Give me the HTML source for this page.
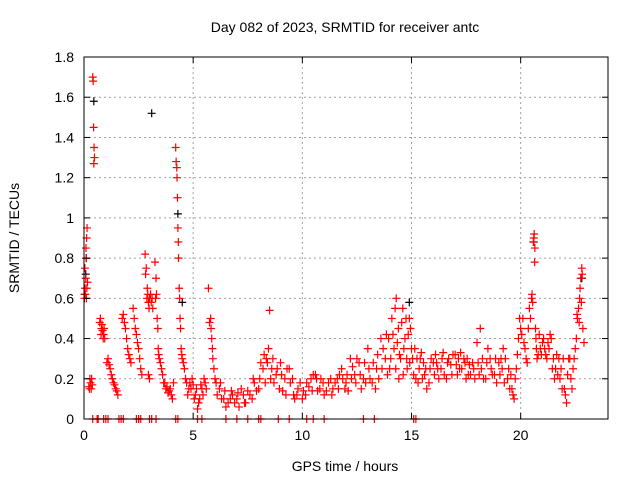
<!DOCTYPE html>
<html><head><meta charset="utf-8"><style>
body{margin:0;background:#fff;}
svg text{font-family:"Liberation Sans",sans-serif;font-size:14px;fill:#000;}
</style></head><body>
<svg id="chart" width="640" height="480" xmlns="http://www.w3.org/2000/svg">
<rect width="640" height="480" fill="#fff"/>
<text x="345" y="32" text-anchor="middle">Day 082 of 2023, SRMTID for receiver antc</text>
<text transform="translate(19,238) rotate(-90)" text-anchor="middle">SRMTID / TECUs</text>
<text x="345" y="471" text-anchor="middle">GPS time / hours</text>
<g id="grid"></g>
<g id="marks"></g>
<g id="axes"></g>
</svg>
<script>
const xTicks=[0,5,10,15,20];
const yTicks=[0,0.2,0.4,0.6,0.8,1,1.2,1.4,1.6,1.8];
const yTickLabels=["0","0.2","0.4","0.6","0.8","1","1.2","1.4","1.6","1.8"];
const redT=[0.02,0.05,0.08,0.10,0.12,0.14,0.06,0.16,0.25,0.30,0.35,0.38,0.40,0.42,0.44,0.46,0.48,0.45,0.75,0.80,0.85,0.90,0.95,1.10,1.20,1.30,1.40,1.50,1.80,1.90,2.00,2.10,2.25,2.35,2.45,2.55,2.60,2.80,2.85,2.90,2.95,3.00,3.05,3.00,3.15,3.25,3.30,3.35,3.40,3.45,3.55,3.65,3.75,3.90,4.00,4.10,4.20,4.25,4.28,4.30,4.33,4.36,4.40,4.45,4.55,4.65,4.80,4.95,5.10,5.25,5.40,5.55,5.80,5.85,5.90,6.00,5.70,6.20,6.40,6.60,6.80,7.00,7.20,7.40,7.60,7.80,8.00,8.20,8.35,8.45,8.50,8.60,8.80,9.00,9.20,9.40,9.60,9.80,10.00,10.20,10.40,10.60,10.80,11.00,11.20,11.40,11.60,11.80,12.00,12.20,12.40,12.60,12.80,13.00,13.20,13.40,13.60,13.80,14.00,14.10,14.20,14.30,14.40,14.50,14.60,14.70,14.80,14.90,15.00,15.20,15.40,15.60,15.80,16.00,16.20,16.40,16.60,16.80,17.00,17.20,17.40,17.60,17.80,18.00,18.20,18.40,18.60,18.80,19.00,19.20,19.40,19.60,19.80,19.90,20.00,20.10,20.20,20.40,20.50,20.60,20.65,20.70,20.80,20.90,21.00,21.20,21.40,21.60,21.80,22.00,22.10,22.20,22.30,22.40,22.50,22.60,22.70,22.75,22.80,22.85,
0.4,0.6,1.0,1.6,2.5,2.6,3.1,3.3,4.3,5.2,6.5,7.0,7.5,8.1,8.9,9.4,10.2,11.0,13.3,15.1];
const redV=[0.60,0.65,0.70,0.80,0.90,0.95,0.62,0.68,0.15,0.18,0.20,0.17,1.70,1.68,1.45,1.35,1.30,1.27,0.50,0.45,0.44,0.42,0.40,0.30,0.25,0.20,0.17,0.14,0.52,0.45,0.35,0.30,0.55,0.45,0.38,0.30,0.25,0.82,0.75,0.65,0.58,0.60,0.62,0.20,0.55,0.78,0.70,0.50,0.35,0.30,0.25,0.18,0.15,0.14,0.12,0.18,1.35,1.25,1.10,0.95,0.80,0.65,0.50,0.35,0.28,0.20,0.15,0.20,0.12,0.08,0.15,0.18,0.50,0.40,0.30,0.20,0.65,0.15,0.10,0.08,0.12,0.10,0.15,0.08,0.12,0.18,0.15,0.25,0.30,0.35,0.54,0.25,0.22,0.28,0.20,0.25,0.12,0.15,0.10,0.18,0.20,0.22,0.15,0.12,0.18,0.15,0.20,0.25,0.18,0.30,0.22,0.28,0.20,0.35,0.18,0.25,0.40,0.30,0.25,0.50,0.35,0.60,0.45,0.30,0.55,0.40,0.25,0.50,0.35,0.20,0.30,0.22,0.18,0.28,0.25,0.30,0.20,0.27,0.32,0.25,0.30,0.22,0.28,0.38,0.25,0.20,0.30,0.22,0.28,0.35,0.20,0.15,0.25,0.40,0.45,0.50,0.35,0.55,0.60,0.90,0.85,0.40,0.32,0.35,0.38,0.30,0.40,0.25,0.20,0.15,0.08,0.30,0.20,0.25,0.35,0.50,0.60,0.70,0.75,0.45,
0,0,0,0,0,0,0,0,0,0,0,0,0,0,0,0,0,0,0,0];
const redT2=[0.04,0.09,0.13,0.11,0.22,0.27,0.33,0.72,0.78,0.82,0.88,0.92,1.05,1.15,1.25,1.35,1.45,1.55,1.75,1.85,1.95,2.05,2.15,2.3,2.4,2.5,2.65,2.82,2.88,2.92,2.98,3.08,3.12,2.95,3.28,3.32,3.38,3.42,3.5,3.6,3.7,3.8,3.85,3.95,4.05,4.22,4.26,4.32,4.38,4.42,4.48,4.5,4.6,4.7,4.75,4.85,4.9,5.0,5.05,5.15,5.2,5.3,5.35,5.45,5.5,5.6,5.75,5.82,5.88,5.95,6.05,6.1,6.25,6.3,6.45,6.5,6.7,6.75,6.9,7.05,7.1,7.3,7.35,7.5,7.7,7.75,7.9,8.05,8.1,8.25,8.3,8.4,8.55,8.65,8.7,8.85,8.95,9.05,9.1,9.25,9.3,9.45,9.55,9.65,9.75,9.9,10.05,10.15,10.3,10.45,10.5,10.65,10.7,10.85,10.95,11.1,11.3,11.35,11.5,11.65,11.7,11.85,11.95,12.05,12.1,12.25,12.3,12.45,12.5,12.65,12.7,12.85,12.9,13.05,13.1,13.25,13.35,13.45,13.5,13.65,13.7,13.85,13.9,13.95,14.05,14.15,14.25,14.28,14.35,14.42,14.45,14.55,14.62,14.65,14.75,14.78,14.85,14.92,14.95,15.05,15.1,15.15,15.25,15.3,15.35,15.45,15.5,15.55,15.65,15.7,15.85,15.9,16.05,16.1,16.15,16.25,16.35,16.45,16.5,16.65,16.7,16.85,16.9,17.05,17.1,17.15,17.25,17.3,17.45,17.5,17.55,17.65,17.7,17.85,17.9,18.05,18.1,18.15,18.25,18.3,18.45,18.5,18.65,18.7,18.85,18.9,19.05,19.1,19.15,19.25,19.3,19.45,19.5,19.55,19.65,19.7,19.75,19.85,19.95,20.05,20.15,20.25,20.3,20.35,20.45,20.52,20.55,20.58,20.62,20.64,20.68,20.72,20.75,20.85,20.95,21.05,21.1,21.15,21.25,21.3,21.35,21.45,21.5,21.55,21.65,21.7,21.75,21.85,21.9,21.95,22.05,22.15,22.25,22.35,22.45,22.55,22.58,22.65,22.68,22.72,22.78,22.82,22.9,
0.65,0.9,1.1,1.7,1.8,2.4,2.5,3.0,4.2,5.4,8.0,10.5,12.8,15.2];
const redV2=[0.75,0.85,0.65,0.6,0.16,0.2,0.15,0.48,0.42,0.47,0.4,0.45,0.28,0.27,0.22,0.18,0.15,0.12,0.5,0.48,0.4,0.32,0.28,0.5,0.42,0.35,0.22,0.72,0.6,0.62,0.55,0.58,0.6,0.22,0.6,0.62,0.45,0.32,0.28,0.22,0.18,0.16,0.13,0.15,0.1,1.28,1.2,0.88,0.6,0.45,0.32,0.3,0.25,0.18,0.12,0.18,0.15,0.17,0.1,0.15,0.05,0.1,0.17,0.12,0.2,0.15,0.48,0.45,0.35,0.25,0.18,0.12,0.18,0.1,0.14,0.06,0.1,0.14,0.08,0.13,0.06,0.12,0.08,0.14,0.1,0.2,0.14,0.2,0.28,0.32,0.18,0.28,0.2,0.3,0.18,0.25,0.15,0.22,0.14,0.12,0.25,0.18,0.2,0.1,0.12,0.18,0.14,0.12,0.16,0.14,0.22,0.2,0.14,0.2,0.18,0.14,0.2,0.12,0.18,0.15,0.22,0.2,0.15,0.22,0.14,0.2,0.26,0.18,0.3,0.22,0.15,0.28,0.18,0.25,0.2,0.28,0.15,0.32,0.2,0.25,0.35,0.42,0.22,0.4,0.3,0.42,0.55,0.25,0.38,0.2,0.32,0.48,0.22,0.35,0.5,0.3,0.42,0.28,0.45,0.3,0.22,0.35,0.3,0.18,0.25,0.33,0.2,0.28,0.25,0.15,0.25,0.3,0.22,0.32,0.28,0.2,0.25,0.33,0.22,0.28,0.3,0.22,0.32,0.27,0.22,0.3,0.33,0.25,0.28,0.2,0.3,0.27,0.22,0.25,0.2,0.28,0.22,0.45,0.3,0.2,0.28,0.35,0.25,0.22,0.3,0.18,0.22,0.3,0.25,0.18,0.3,0.25,0.15,0.22,0.12,0.1,0.2,0.32,0.5,0.42,0.38,0.3,0.28,0.45,0.5,0.62,0.58,0.88,0.92,0.78,0.45,0.35,0.3,0.42,0.32,0.4,0.35,0.32,0.38,0.35,0.42,0.25,0.3,0.2,0.32,0.22,0.3,0.25,0.15,0.3,0.12,0.22,0.3,0.15,0.3,0.4,0.52,0.55,0.48,0.65,0.58,0.72,0.38,
0,0,0,0,0,0,0,0,0,0,0,0,0,0];
const blackT=[0.03,0.08,0.45,3.1,4.3,4.5,14.9,20.6,22.8,0.1];
const blackV=[0.62,0.72,1.58,1.52,1.02,0.58,0.58,0.88,0.70,0.80];

const X0=84,X1=608,Y0=419,Y1=57,XMAX=24,YMAX=1.8;
const xs=t=>X0+(X1-X0)*t/XMAX;
const ys=v=>Y0-(Y0-Y1)*v/YMAX;
const NS="http://www.w3.org/2000/svg";
function mk(tag,attrs,parent){const e=document.createElementNS(NS,tag);for(const k in attrs)e.setAttribute(k,attrs[k]);parent.appendChild(e);return e;}
const grid=document.getElementById('grid'),axes=document.getElementById('axes'),marks=document.getElementById('marks');
xTicks.forEach(t=>{
  const x=xs(t);
  if(t>0){const g=mk('line',{x1:x,x2:x,y1:Y0,y2:Y1,stroke:'#a0a0a0','stroke-dasharray':'2,3'},grid);
  
  }
  mk('line',{x1:x,x2:x,y1:Y0,y2:Y0-6,stroke:'#000'},axes);
  mk('line',{x1:x,x2:x,y1:Y1,y2:Y1+6,stroke:'#000'},axes);
  const l=mk('text',{x:x,y:Y0+21,'text-anchor':'middle'},axes);l.textContent=t;
  
  
});
yTicks.forEach((v,i)=>{
  const y=ys(v);
  if(v>0&&v<YMAX){const g=mk('line',{x1:X0,x2:X1,y1:y,y2:y,stroke:'#a0a0a0','stroke-dasharray':'2,3'},grid);
  
  }
  mk('line',{x1:X0,x2:X0+6,y1:y,y2:y,stroke:'#000'},axes);
  mk('line',{x1:X1,x2:X1-6,y1:y,y2:y,stroke:'#000'},axes);
  const l=mk('text',{x:X0-10,y:y+5,'text-anchor':'end'},axes);l.textContent=yTickLabels[i];
  
  
});
const fr=mk('rect',{x:X0,y:Y1,width:X1-X0,height:Y0-Y1,fill:'none',stroke:'#000'},axes);


function plus(t,v,c,name){
  const x=xs(t),y=ys(v);
  const p=mk('path',{d:`M${x-4},${y}H${x+4}M${x},${y-4}V${y+4}`,stroke:c,'stroke-width':1.2,fill:'none'},marks);
  
  
}
blackT.forEach((t,i)=>plus(t,blackV[i],'#000','black-point'));
redT.forEach((t,i)=>plus(t,redV[i],'#ff0000','red-point'));
redT2.forEach((t,i)=>plus(t,redV2[i],'#ff0000','red-point'));
</script>
</body></html>
